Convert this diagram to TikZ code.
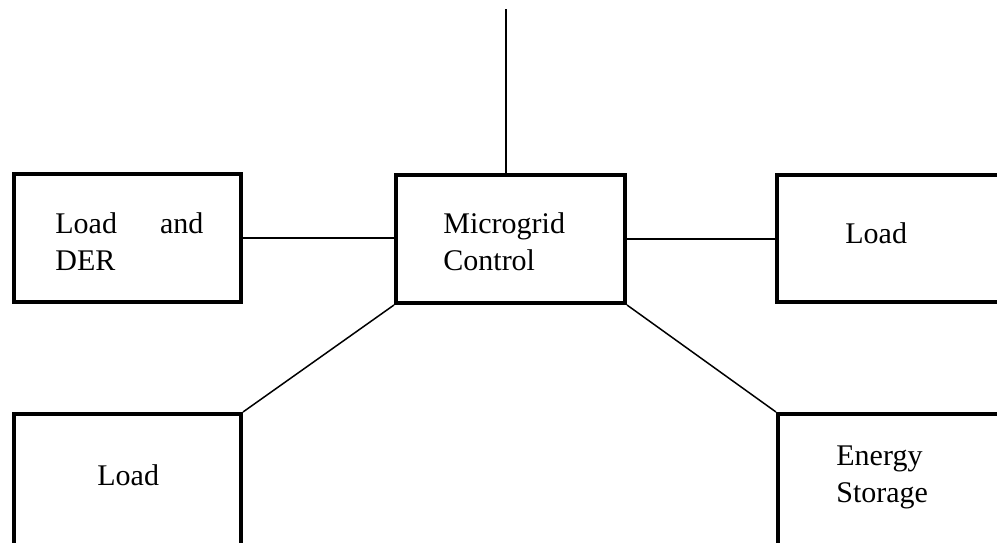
\documentclass[tikz,border=0pt]{standalone}
\usepackage{fontspec}
\setmainfont{Liberation Serif}
\begin{document}
\begin{tikzpicture}[x=0.5pt,y=-0.5pt,
  box/.style={draw=black,line width=2pt,rectangle,inner sep=0pt},
  conn/.style={draw=black,line width=0.75pt},
  lbl/.style={inner sep=0pt,anchor=base west,font=\fontsize{15}{18.5}\selectfont},
  lbl2/.style={lbl,text width=80pt,align=left}]
\useasboundingbox (0,0) rectangle (997,542);
% boxes
\node[box,minimum width=113.5pt,minimum height=64pt] (der) at (127.5,238) {};
\node[box,minimum width=114.5pt,minimum height=64pt] (mc) at (510.5,239) {};
\node[box,minimum width=116.5pt,minimum height=63.5pt] (loadr) at (893.5,238.5) {};
\node[box,minimum width=113.5pt,minimum height=73pt] (loadb) at (127.5,487) {};
\node[box,minimum width=116pt,minimum height=73pt] (es) at (894,487) {};
% labels
\node[lbl] (t1) at (55,233) {\makebox[74pt][l]{Load\hfill and}};
\node[lbl] (t2) at (55,270) {DER};
\node[lbl2] (t3) at (443,233) {Microgrid\\Control};
\node[lbl] (t4) at (845,243) {Load};
\node[lbl] (t5) at (97,485) {Load};
\node[lbl2] (t6) at (836,465) {Energy\\Storage};
% connectors
\coordinate (top) at (506,9);
\draw[conn] (top) -- (top |- mc.north);
\draw[conn] (der.east) -- (der.east -| mc.west);
\draw[conn] (mc.east) -- (mc.east -| loadr.west);
\draw[conn] (mc.south west) -- (loadb.north east);
\draw[conn] (mc.south east) -- (es.north west);
\end{tikzpicture}
\end{document}
